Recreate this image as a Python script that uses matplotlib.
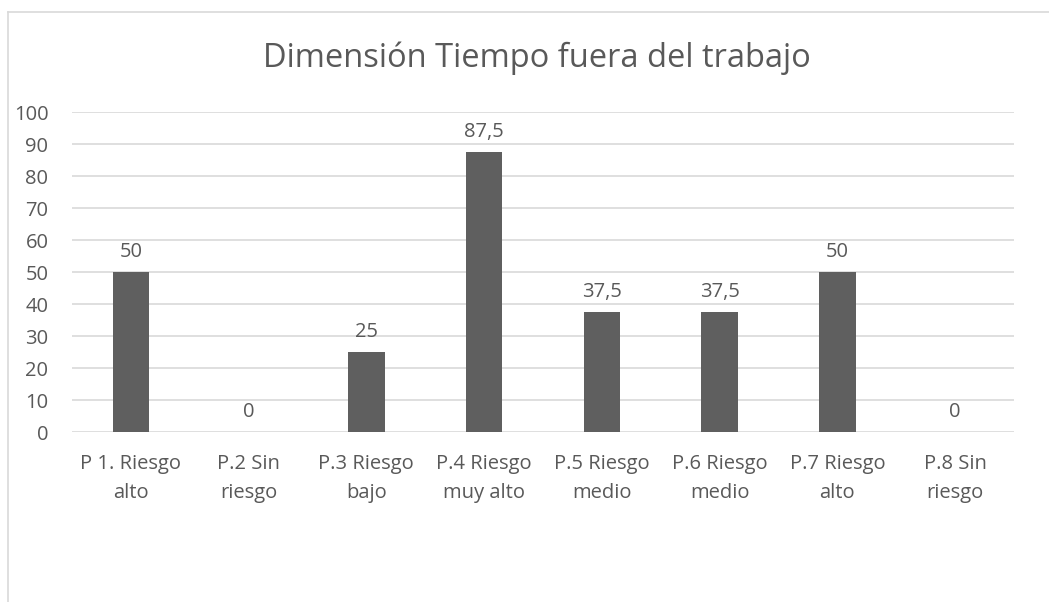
import matplotlib.pyplot as plt
from matplotlib.lines import Line2D

categorias = ["P 1. Riesgo\nalto", "P.2 Sin\nriesgo", "P.3 Riesgo\nbajo", "P.4 Riesgo\nmuy alto",
              "P.5 Riesgo\nmedio", "P.6 Riesgo\nmedio", "P.7 Riesgo\nalto", "P.8 Sin\nriesgo"]
valores = [50, 0, 25, 87.5, 37.5, 37.5, 50, 0]
ticks_y = list(range(0, 101, 10))

GRIS_TEXTO = "#595959"
GRIS_BARRA = "#5f5f5f"
GRIS_LINEA = "#d9d9d9"

plt.rcParams["font.family"] = ["Open Sans", "DejaVu Sans"]

W, H = 1049, 602
fig = plt.figure(figsize=(W / 100, H / 100), dpi=100)
fig.patch.set_facecolor("white")

# area del grafico en pixeles
x0, x1 = 72, 1014
y_top, y_bot = 112, 432
ax = fig.add_axes([x0 / W, 1 - y_bot / H, (x1 - x0) / W, (y_bot - y_top) / H])

pos = list(range(len(categorias)))
ax.bar(pos, valores, width=0.31, color=GRIS_BARRA, zorder=3)
ax.set_xlim(-0.5, len(categorias) - 0.5)
ax.set_ylim(0, 100)
ax.set_yticks(ticks_y)
ax.set_xticks(pos)
ax.set_xticklabels(categorias, fontsize=14.5, color=GRIS_TEXTO, linespacing=1.6)
ax.tick_params(axis="y", labelsize=14.5, labelcolor=GRIS_TEXTO, length=0, pad=17)
ax.tick_params(axis="x", length=0, pad=16)
ax.grid(axis="y", color=GRIS_LINEA, linewidth=1.2, zorder=0)
for s in ax.spines.values():
    s.set_visible(False)

for p, v in zip(pos, valores):
    etiqueta = f"{v:g}".replace(".", ",")
    ax.annotate(etiqueta, (p, v), xytext=(0, 7), textcoords="offset points",
                ha="center", va="bottom", fontsize=14.5, color=GRIS_TEXTO)

fig.text(537 / W, 1 - 58 / H, "Dimensión Tiempo fuera del trabajo", ha="center", va="center",
         fontsize=23.5, color=GRIS_TEXTO)

# borde del area del grafico (recortado a la derecha y abajo)
fig.add_artist(Line2D([8 / W, 8 / W], [0, 1 - 12 / H], color=GRIS_LINEA, linewidth=1.2,
                      transform=fig.transFigure))
fig.add_artist(Line2D([8 / W, 1], [1 - 12 / H, 1 - 12 / H], color=GRIS_LINEA, linewidth=1.2,
                      transform=fig.transFigure))

fig.savefig("out.png", dpi=100, facecolor="white")
